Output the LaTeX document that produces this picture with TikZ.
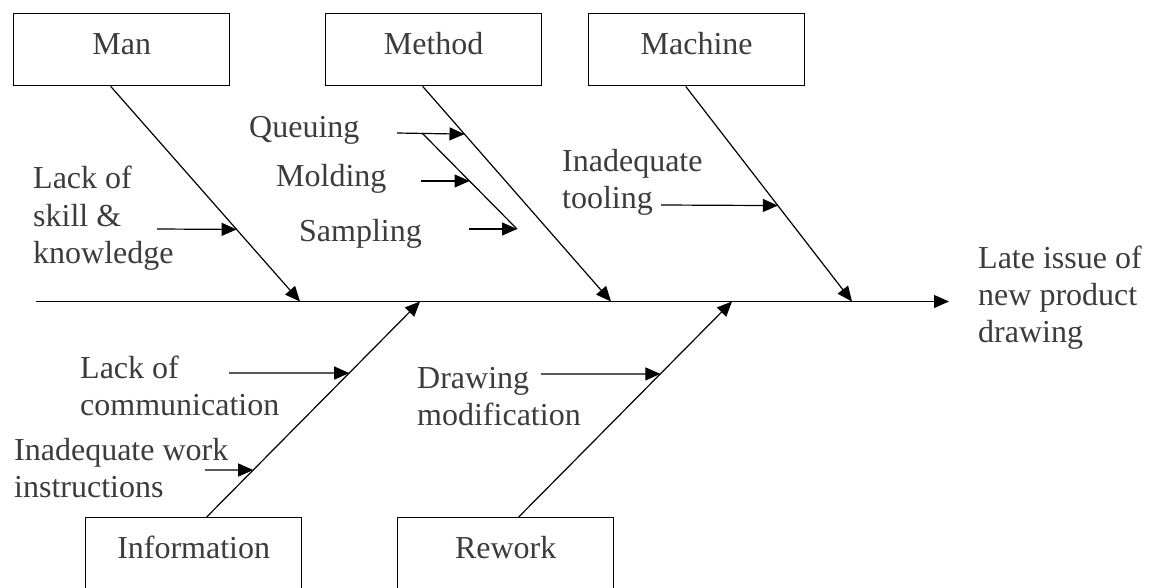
\documentclass[tikz,border=0pt]{standalone}
\usepackage{fontspec}
\setmainfont{Liberation Serif}
\usetikzlibrary{arrows.meta,calc}
\definecolor{ink}{RGB}{60,60,60}
\begin{document}
\begin{tikzpicture}[x=1pt,y=-1pt,
  cause/.style={draw=black, line width=1.4pt, minimum width=216pt, minimum height=72pt,
    inner sep=0pt, anchor=north west, text height=20pt, text depth=10pt,
    text=ink, font=\fontsize{32}{37}\selectfont},
  lbl/.style={anchor=base west, inner sep=0pt, align=left, text=ink,
    font=\fontsize{32}{37}\selectfont},
  bone/.style={line width=1.2pt},
  arr/.style={-{Triangle[length=15pt,width=13pt]}, line width=1.2pt}]
\useasboundingbox (0,0) rectangle (1154,588);
\fill[white] (0,0) rectangle (1154,588);

% category boxes
\node[cause] (man)     at (13,13)   {Man};
\node[cause] (method)  at (325,13)  {Method};
\node[cause] (machine) at (588,13)  {Machine};
\node[cause] (info)    at (85,517)  {Information};
\node[cause] (rework)  at (397,517) {Rework};

% spine
\coordinate (spL) at (36,301.5);
\coordinate (spR) at (949,301.5);
\draw[arr] (spL) -- (spR);

% main bones
\coordinate (manA)  at ($(man.south)+(-11,0)$);
\coordinate (manB)  at (300,301.5);
\coordinate (methA) at ($(method.south)+(-11,0)$);
\coordinate (methB) at (611,301.5);
\coordinate (machA) at ($(machine.south)+(-11,0)$);
\coordinate (machB) at (852,301.5);
\coordinate (infoA) at ($(info.north)+(13,0)$);
\coordinate (infoB) at (420,301.5);
\coordinate (rewA)  at ($(rework.north)+(13,0)$);
\coordinate (rewB)  at (732,301.5);
\draw[arr] (manA)  -- (manB);
\draw[arr] (methA) -- (methB);
\draw[arr] (machA) -- (machB);
\draw[arr] (infoA) -- (infoB);
\draw[arr] (rewA)  -- (rewB);

% points on the bones where the causes meet them
\path (manA)  -- (manB)  coordinate[pos=0.665] (manS);
\path (methA) -- (methB) coordinate[pos=0.222] (methQ);
\path (machA) -- (machB) coordinate[pos=0.554] (machT);
\path (infoA) -- (infoB) coordinate[pos=0.668] (infoC) coordinate[pos=0.218] (infoI);
\path (rewA)  -- (rewB)  coordinate[pos=0.664] (rewD);

% cause labels (multi-line labels sit on the baseline of their last line)
\node[lbl] (skill)    at (33,263)  {Lack of\\skill \&\\knowledge};
\node[lbl] (queuing)  at (249,138) {Queuing};
\node[lbl] (molding)  at (276,187) {Molding};
\node[lbl] (sampling) at (299,242) {Sampling};
\node[lbl] (tooling)  at (562,209) {Inadequate\\tooling};
\node[lbl] (effect)   at (978,342) {Late issue of\\new product\\drawing};
\node[lbl] (comm)     at (80,415)  {Lack of\\communication};
\node[lbl] (instr)    at (14,497)  {Inadequate work\\instructions};
\node[lbl] (drawmod)  at (417,425) {Drawing\\modification};

% Man
\coordinate (skillT) at (157,229);
\draw[arr] (skillT) -- (manS);

% Method, with its queuing sub-bone
\coordinate (qTail) at (397,133);
\coordinate (qRoot) at (422,133);
\coordinate (qEnd)  at (517,229);
\draw[arr] (qTail) -- (methQ);
\draw[bone] (qRoot) -- (qEnd);
\path (qRoot) -- (qEnd) coordinate[pos=0.5] (qMid);
\coordinate (mTail) at (421,181);
\coordinate (sTail) at (469,229);
\draw[arr] (mTail) -- (qMid);
\draw[arr] (sTail) -- (qEnd);

% Machine
\coordinate (tTail) at (661,205);
\draw[arr] (tTail) -- (machT);

% Information
\coordinate (cTail) at (229,373);
\coordinate (iTail) at (205,470);
\draw[arr] (cTail) -- (infoC);
\draw[arr] (iTail) -- (infoI);

% Rework
\coordinate (dTail) at (541,374);
\draw[arr] (dTail) -- (rewD);
\end{tikzpicture}
\end{document}
